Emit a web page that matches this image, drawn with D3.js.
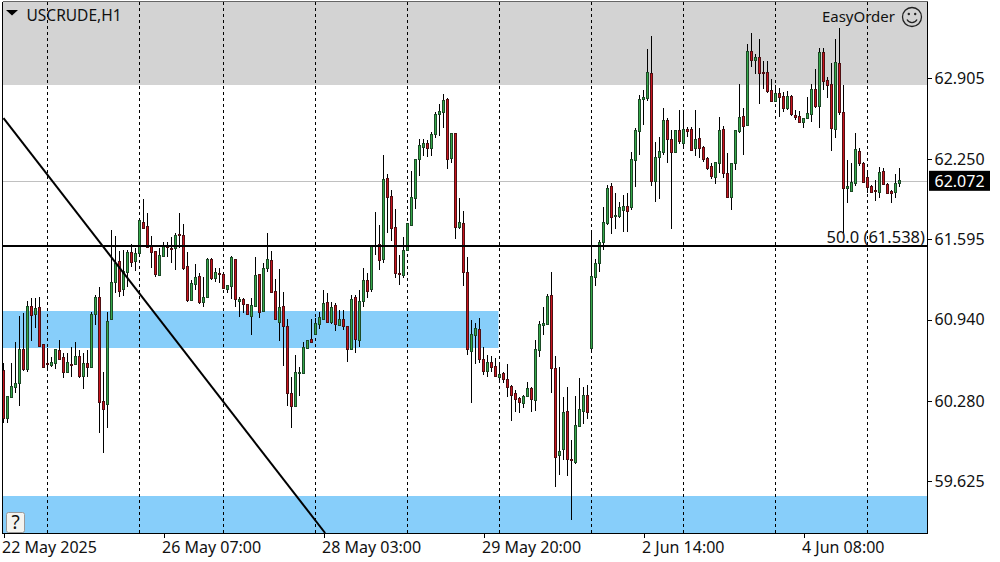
<!DOCTYPE html>
<html><head><meta charset="utf-8">
<style>html,body{margin:0;padding:0;background:#fff}svg{display:block}
text{font-family:"Noto Sans","DejaVu Sans",sans-serif;font-size:16px;fill:#111}</style>
<script src="https://cdn.jsdelivr.net/npm/d3@7"></script></head><body>
<svg id="c" width="1000" height="562"></svg>
<script>
const open=[60.532,60.142,60.312,60.394,60.427,60.703,60.540,61.053,60.988,61.045,60.743,60.589,60.573,60.589,60.695,60.638,60.516,60.581,60.581,60.646,60.483,60.589,60.557,60.988,61.126,60.280,60.255,60.947,61.249,61.419,61.191,61.330,61.493,61.419,61.484,61.737,61.704,61.541,61.501,61.306,61.460,61.541,61.525,61.525,61.639,61.631,61.379,61.102,61.232,61.297,61.086,61.126,61.436,61.281,61.322,61.314,61.191,61.216,61.436,61.094,61.110,61.069,60.972,61.053,61.314,61.012,61.363,61.428,61.175,60.923,61.053,60.890,60.345,60.239,60.508,60.508,60.711,60.784,60.825,60.907,60.947,61.086,60.923,61.061,60.898,60.947,60.890,60.703,61.126,60.776,61.094,61.265,61.191,61.541,61.558,61.436,62.095,61.948,61.696,61.322,61.306,61.509,61.712,61.932,62.250,62.347,62.380,62.339,62.453,62.616,62.632,62.738,62.258,62.461,61.696,61.729,61.330,60.687,60.817,60.866,60.622,60.524,60.597,60.565,60.475,60.508,60.459,60.402,60.345,60.304,60.264,60.320,60.386,60.288,60.695,60.898,60.907,61.143,60.548,59.840,59.889,60.198,59.808,59.784,60.076,60.198,60.329,60.711,61.289,61.403,61.574,61.729,62.030,61.786,61.786,61.835,61.867,61.859,62.242,62.478,62.738,62.746,62.950,62.071,62.266,62.307,62.567,62.413,62.307,62.486,62.380,62.494,62.494,62.339,62.421,62.347,62.258,62.193,62.103,62.217,62.494,62.136,61.940,62.217,62.478,62.600,62.527,63.129,63.056,63.080,62.958,62.958,62.811,62.722,62.787,62.763,62.665,62.763,62.608,62.600,62.551,62.583,62.616,62.820,62.681,63.121,62.893,62.860,62.494,63.031,62.632,62.014,61.989,62.055,62.315,62.217,62.103,62.030,61.997,61.981,62.152,62.046,61.989,61.981,62.054];
const high=[60.590,60.320,60.590,60.760,60.972,60.997,61.094,61.118,61.118,61.126,60.743,60.711,60.638,60.703,60.776,60.671,60.671,60.719,60.760,60.695,60.671,60.695,61.004,61.143,61.207,60.516,61.004,61.672,61.623,61.501,61.509,61.509,61.558,61.525,61.753,61.924,61.810,61.623,61.501,61.525,61.574,61.574,61.615,61.647,61.810,61.721,61.493,61.265,61.395,61.322,61.289,61.444,61.444,61.363,61.363,61.314,61.224,61.460,61.436,61.126,61.118,61.069,61.118,61.452,61.314,61.403,61.647,61.501,61.273,61.354,61.167,60.947,60.475,60.654,60.557,60.760,60.776,60.947,60.955,61.004,61.183,61.159,61.086,61.077,61.021,61.021,60.890,61.143,61.143,61.183,61.363,61.322,61.549,61.818,61.712,62.282,62.127,61.997,61.843,61.468,61.615,61.729,62.152,62.250,62.413,62.413,62.404,62.469,62.632,62.697,62.779,62.746,62.461,62.461,61.932,61.826,61.452,60.939,60.915,60.955,60.719,60.654,60.646,60.630,60.597,60.516,60.581,60.410,60.369,60.312,60.329,60.435,60.394,60.776,60.931,61.045,61.151,61.330,60.646,60.557,60.312,60.394,59.962,60.320,60.467,60.394,60.410,61.672,61.436,61.590,61.859,62.038,62.054,61.973,61.900,61.957,61.973,62.307,62.502,62.771,62.811,63.145,63.251,62.388,62.429,62.665,62.583,62.486,62.486,62.649,62.649,62.510,62.510,62.649,62.502,62.355,62.266,62.217,62.225,62.592,62.518,62.299,62.217,62.486,62.860,62.665,63.186,63.275,63.104,63.226,63.048,63.048,62.901,62.852,62.828,62.795,62.803,62.771,62.649,62.640,62.583,62.754,62.860,62.982,63.153,63.153,62.917,63.031,63.226,63.316,62.852,62.242,62.217,62.461,62.339,62.225,62.160,62.038,62.079,62.185,62.176,62.054,61.997,62.127,62.176];
const low=[60.101,60.101,60.304,60.345,60.239,60.524,60.516,60.768,60.874,60.719,60.548,60.532,60.557,60.540,60.614,60.467,60.516,60.475,60.573,60.467,60.377,60.475,60.548,60.898,60.019,59.857,60.060,60.947,61.159,61.126,61.134,61.207,61.371,61.338,61.484,61.680,61.533,61.363,61.289,61.297,61.452,61.452,61.403,61.346,61.525,61.346,61.086,61.094,61.183,61.069,61.045,61.126,61.265,61.249,61.240,61.191,61.159,61.110,61.045,60.964,60.997,60.980,60.817,61.045,60.955,61.004,61.330,61.159,60.939,60.768,60.565,60.239,60.060,60.239,60.320,60.500,60.703,60.760,60.817,60.866,60.947,60.915,60.907,60.850,60.890,60.858,60.597,60.703,60.671,60.719,61.045,61.118,61.167,61.468,61.346,61.403,61.647,61.582,61.281,61.224,61.281,61.501,61.704,61.843,62.111,62.274,62.266,62.274,62.421,62.437,62.502,62.168,62.217,61.598,61.680,61.216,60.654,60.264,60.581,60.589,60.491,60.475,60.516,60.475,60.451,60.427,60.312,60.117,60.190,60.182,60.223,60.312,60.190,60.198,60.638,60.817,60.898,60.345,59.580,59.677,59.800,59.669,59.311,59.767,60.068,60.092,60.133,60.695,61.216,61.330,61.509,61.712,61.639,61.680,61.769,61.655,61.655,61.835,62.022,62.282,62.527,62.722,62.030,61.900,61.924,62.282,62.217,61.680,62.299,62.372,62.339,62.429,62.315,62.274,62.258,62.225,62.160,62.087,62.046,62.136,62.095,61.932,61.835,62.160,62.461,62.282,62.527,62.999,62.942,62.697,62.820,62.787,62.714,62.714,62.592,62.632,62.649,62.600,62.567,62.543,62.502,62.583,62.551,62.665,62.502,62.811,62.746,62.315,62.421,62.608,61.647,61.892,61.981,62.030,62.193,62.055,61.973,61.973,61.908,61.932,62.038,61.965,61.892,61.932,62.022];
const close=[60.142,60.320,60.402,60.427,60.703,60.540,61.053,60.980,61.037,60.727,60.557,60.581,60.597,60.703,60.622,60.516,60.597,60.573,60.646,60.483,60.589,60.557,60.988,61.126,60.272,60.215,60.931,61.249,61.403,61.175,61.338,61.493,61.411,61.484,61.753,61.688,61.533,61.493,61.314,61.468,61.541,61.533,61.517,61.631,61.631,61.363,61.102,61.240,61.289,61.086,61.126,61.436,61.281,61.330,61.314,61.200,61.224,61.452,61.110,61.110,61.069,60.988,61.061,61.306,61.004,61.363,61.436,61.167,60.947,61.045,60.890,60.345,60.239,60.516,60.516,60.719,60.776,60.760,60.915,60.964,61.077,60.923,61.045,60.907,60.947,60.890,60.703,61.110,60.784,61.094,61.265,61.175,61.541,61.549,61.428,62.087,61.940,61.688,61.322,61.314,61.509,61.729,61.940,62.250,62.364,62.380,62.339,62.453,62.616,62.640,62.730,62.250,62.461,61.696,61.737,61.330,60.703,60.825,60.874,60.622,60.524,60.597,60.557,60.483,60.500,60.459,60.394,60.329,60.296,60.272,60.320,60.386,60.296,60.703,60.907,60.915,61.134,60.548,59.824,59.873,60.190,59.808,59.800,60.084,60.215,60.329,60.190,61.297,61.403,61.574,61.737,62.014,61.778,61.794,61.859,61.867,61.826,62.250,62.486,62.738,62.754,62.958,62.071,62.266,62.315,62.567,62.413,62.307,62.486,62.396,62.494,62.478,62.323,62.413,62.339,62.250,62.176,62.111,62.225,62.486,62.136,61.940,62.217,62.486,62.592,62.519,63.129,63.056,63.080,62.950,62.950,62.803,62.722,62.787,62.754,62.665,62.763,62.616,62.592,62.551,62.583,62.624,62.820,62.681,63.121,62.885,62.852,62.502,63.039,62.632,62.014,62.030,62.063,62.331,62.217,62.063,62.022,61.981,61.989,62.144,62.046,61.973,61.973,62.054,62.079];
const priceTicks=[62.905,62.250,61.595,60.940,60.280,59.625];
const timeTickIndex=[0,40,80,120,160,200];
const timeTickLabels=["22 May 2025","26 May 07:00","28 May 03:00","29 May 20:00","2 Jun 14:00","4 Jun 08:00"];
const sessionIndex=[11,34,55,78,101,124,147,170,193,216];
const symbolLabel="USCRUDE,H1";
const bid=62.072;
const fiboLevel=61.538;
const fiboLabel="50.0 (61.538)";
const trendStart=[0,62.583];
const trendEnd=[80.4,59.205];
const zoneGrey=[63.544,62.852];
const zoneBlueA=[61.012,60.711];
const zoneBlueB=[59.507,59.205];
const blueAEndIndex=123.75;

const L=2.5,R=927.5,T=1.5,B=533.5;
const x=d3.scaleLinear().domain([0,224]).range([3.5,899.5]);
const y=d3.scaleLinear().domain([63.544,59.205]).range([0,533]);
const py=v=>Math.round(y(v));
const svg=d3.select("#c");

const zones=svg.append("g");
const zone=(a,b,x0,x1,col)=>zones.append("rect").attr("x",x0).attr("width",x1-x0)
  .attr("y",Math.max(py(a),T)).attr("height",py(b)-Math.max(py(a),T)).attr("fill",col);
zone(zoneGrey[0],zoneGrey[1],L,R,"#d3d3d3");
zone(zoneBlueA[0],zoneBlueA[1],L,x(blueAEndIndex),"#87cefa");
zone(zoneBlueB[0],zoneBlueB[1],L,R,"#87cefa");

svg.append("line").attr("x1",L).attr("x2",R).attr("y1",py(bid)+.5).attr("y2",py(bid)+.5)
  .attr("stroke","#c0c0c0").attr("shape-rendering","crispEdges");

svg.append("g").selectAll("line").data(sessionIndex).join("line")
  .attr("x1",d=>x(d)).attr("x2",d=>x(d)).attr("y1",T).attr("y2",B)
  .attr("stroke","#000").attr("stroke-dasharray","3,3").attr("shape-rendering","crispEdges");

const cd=d3.range(open.length).map(i=>({i,o:open[i],h:high[i],l:low[i],c:close[i]}));
const cg=svg.append("g").attr("shape-rendering","crispEdges");
cg.selectAll("line").data(cd).join("line")
  .attr("x1",d=>x(d.i)).attr("x2",d=>x(d.i))
  .attr("y1",d=>py(d.h)).attr("y2",d=>py(d.l)).attr("stroke","#000");
cg.selectAll("rect").data(cd).join("rect")
  .attr("x",d=>x(d.i)-1).attr("width",2)
  .attr("y",d=>py(Math.max(d.o,d.c))+.5)
  .attr("height",d=>Math.max(1,py(Math.min(d.o,d.c))-py(Math.max(d.o,d.c))))
  .attr("fill",d=>d.c>=d.o?"#35a84a":"#c8141e")
  .attr("stroke",d=>d.c>=d.o?"#1c4a26":"#4e0f12");

svg.append("line").attr("x1",L).attr("x2",R).attr("y1",y(fiboLevel)).attr("y2",y(fiboLevel))
  .attr("stroke","#000").attr("stroke-width",2).attr("shape-rendering","crispEdges");
svg.append("line").attr("x1",x(trendStart[0])).attr("y1",y(trendStart[1]))
  .attr("x2",x(trendEnd[0])).attr("y2",y(trendEnd[1])).attr("stroke","#000").attr("stroke-width",2);
svg.append("text").attr("x",925).attr("y",y(fiboLevel)-3).attr("text-anchor","end").style("font-size","16.5px").text(fiboLabel);

const axR=svg.append("g").attr("transform",`translate(${R},0)`)
  .call(d3.axisRight(y).tickValues(priceTicks).tickFormat(d3.format(".3f")).tickSize(4).tickPadding(3));
const axB=svg.append("g").attr("transform",`translate(0,${B})`)
  .call(d3.axisBottom(x).tickValues(timeTickIndex).tickFormat((d,i)=>timeTickLabels[i]).tickSize(4).tickPadding(4));
[axR,axB].forEach(a=>{a.select(".domain").remove();a.selectAll("line").attr("stroke","#000").attr("shape-rendering","crispEdges");
  a.attr("font-size",null).attr("font-family",null);});
axB.selectAll("text").attr("text-anchor","start").attr("dx",-2);

svg.append("path").attr("d",`M${L},${T}H${R}`).attr("stroke","#666").attr("fill","none").attr("shape-rendering","crispEdges");
svg.append("path").attr("d",`M${L},${T}V${B}H${R}V${T}`).attr("stroke","#000").attr("fill","none").attr("shape-rendering","crispEdges");

svg.append("rect").attr("x",929).attr("y",y(bid)-10).attr("width",61).attr("height",20).attr("fill","#000");
svg.append("text").attr("x",934.5).attr("y",y(bid)+6).style("fill","#fff").text(d3.format(".3f")(bid));

svg.append("path").attr("d","M6,10H18L12,15.5Z").attr("fill","#000");
svg.append("text").attr("x",26.5).attr("y",21).style("font-size","15.5px").text(symbolLabel);
svg.append("text").attr("x",895).attr("y",22).attr("text-anchor","end").style("font-size","15px").text("EasyOrder");

const sm=svg.append("g").attr("transform","translate(912,17)").attr("fill","none").attr("stroke","#222");
sm.append("circle").attr("r",9.5).attr("stroke-width",1.3);
sm.append("path").attr("d","M-5,2.5A5.6,5.6 0 0 0 5,2.5").attr("stroke-width",1.3);
sm.append("circle").attr("cx",-3.2).attr("cy",-3).attr("r",1.2).attr("fill","#222").attr("stroke","none");
sm.append("circle").attr("cx",3.2).attr("cy",-3).attr("r",1.2).attr("fill","#222").attr("stroke","none");

svg.append("rect").attr("x",6.5).attr("y",512.5).attr("width",18).attr("height",20).attr("rx",2)
  .attr("fill","#f4f4f0").attr("stroke","#999");
svg.append("text").attr("x",15.5).attr("y",529).attr("text-anchor","middle").style("font-size","19px").text("?");
</script></body></html>
